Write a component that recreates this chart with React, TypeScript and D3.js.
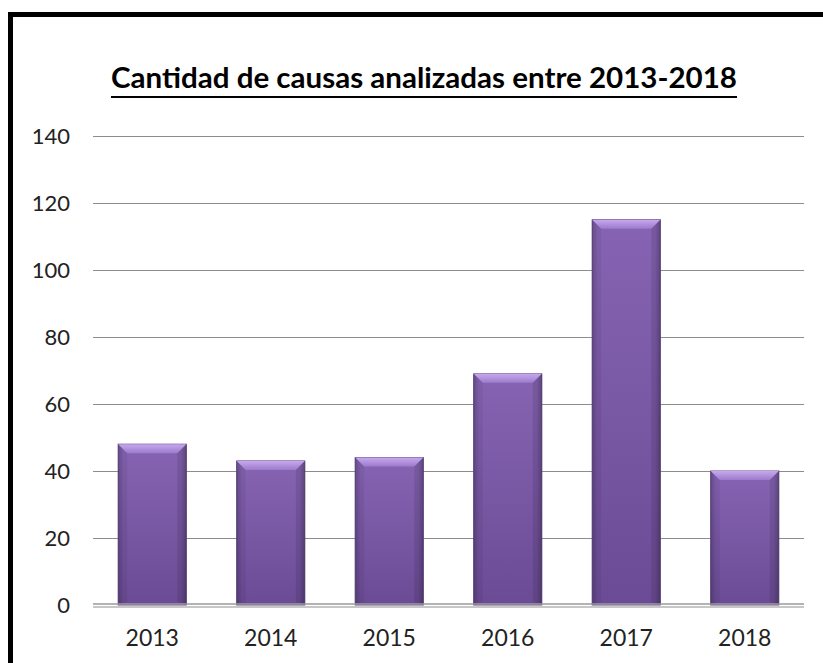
import React from "react";
import * as d3 from "d3";

const years = ["2013", "2014", "2015", "2016", "2017", "2018"];
const counts = [48, 43, 44, 69, 115, 40];
const yTicks = [0, 20, 40, 60, 80, 100, 120, 140];
const title = "Cantidad de causas analizadas entre 2013-2018";

const W = 823;
const H = 663;
const plot = { left: 93, right: 804, top: 136, bottom: 605 };

export default function App() {
  const x = d3
    .scaleBand<string>()
    .domain(years)
    .range([plot.left, plot.right])
    .paddingInner(0.425)
    .paddingOuter(0.2125);
  const y = d3.scaleLinear().domain([0, 140]).range([plot.bottom, plot.top]);
  const bw = x.bandwidth();
  const bev = 9;
  const font = "Lato, 'Open Sans', sans-serif";

  return (
    <svg
      width={W}
      height={H}
      style={{ position: "absolute", left: 0, top: 0, background: "#fff" }}
    >
      <defs>
        <linearGradient id="body" x1="0" y1="0" x2="0" y2="1">
          <stop offset="0" stopColor="#8664B3" />
          <stop offset="1" stopColor="#6B4B95" />
        </linearGradient>
        <linearGradient id="bodyH" x1="0" y1="0" x2="1" y2="0">
          <stop offset="0" stopColor="#000" stopOpacity="0.18" />
          <stop offset="0.08" stopColor="#000" stopOpacity="0" />
          <stop offset="0.92" stopColor="#000" stopOpacity="0" />
          <stop offset="1" stopColor="#000" stopOpacity="0.2" />
        </linearGradient>
        <linearGradient id="topBev" x1="0" y1="0" x2="0" y2="1">
          <stop offset="0" stopColor="#C6A8EE" />
          <stop offset="1" stopColor="#9C7BCB" />
        </linearGradient>
      </defs>
      <rect x={0} y={0} width={W} height={H} fill="#fff" />
      {/* frame */}
      <rect x={10.5} y={14.5} width={W + 20} height={H + 20} fill="none" stroke="#000" strokeWidth={5} />

      {/* title */}
      <text
        x={424}
        y={88}
        textAnchor="middle"
        fontFamily={font}
        fontWeight="bold"
        fontSize={28}
        textLength={626}
        lengthAdjust="spacingAndGlyphs"
        fill="#000"
      >
        {title}
      </text>
      <line x1={111} x2={737} y1={97} y2={97} stroke="#000" strokeWidth={2} />

      {/* gridlines */}
      {yTicks.map((t) => (
        <g key={t}>
          {t > 0 && (
            <line
              x1={plot.left}
              x2={plot.right}
              y1={Math.round(y(t)) + 0.5}
              y2={Math.round(y(t)) + 0.5}
              stroke="#8c8c8c"
              strokeWidth={1}
            />
          )}
          <text
            x={70}
            y={y(t)}
            dy="0.36em"
            textAnchor="end"
            fontFamily={font}
            fontSize={22}
            fill="#222"
          >
            {t}
          </text>
        </g>
      ))}

      {/* bars */}
      {years.map((yr, i) => {
        const x0 = x(yr)!;
        const x1 = x0 + bw;
        const top = y(counts[i]);
        const bot = y(0);
        return (
          <g key={yr}>
            <rect x={x0} y={top} width={bw} height={bot - top} fill="url(#body)" stroke="#5E4585" strokeWidth={1} />
            <rect x={x0} y={top} width={bw} height={bot - top} fill="url(#bodyH)" />
            <polygon
              points={`${x0},${top} ${x1},${top} ${x1 - bev},${top + bev} ${x0 + bev},${top + bev}`}
              fill="url(#topBev)"
            />
            <polygon
              points={`${x0},${top} ${x0 + bev},${top + bev} ${x0 + bev},${bot - 3} ${x0},${bot}`}
              fill="#000"
              fillOpacity={0.06}
            />
            <polygon
              points={`${x1},${top} ${x1 - bev},${top + bev} ${x1 - bev},${bot - 3} ${x1},${bot}`}
              fill="#000"
              fillOpacity={0.1}
            />
          </g>
        );
      })}

      {/* baseline */}
      <line x1={plot.left} x2={plot.right} y1={y(0) - 1} y2={y(0) - 1} stroke="#9a9a9a" strokeWidth={1.5} />
      <line x1={plot.left} x2={plot.right} y1={y(0) + 2} y2={y(0) + 2} stroke="#b5b5b5" strokeWidth={1.5} />

      {/* x labels */}
      {years.map((yr) => (
        <text
          key={yr}
          x={x(yr)! + bw / 2}
          y={646}
          textAnchor="middle"
          fontFamily={font}
          fontSize={23}
          fill="#222"
        >
          {yr}
        </text>
      ))}
    </svg>
  );
}
